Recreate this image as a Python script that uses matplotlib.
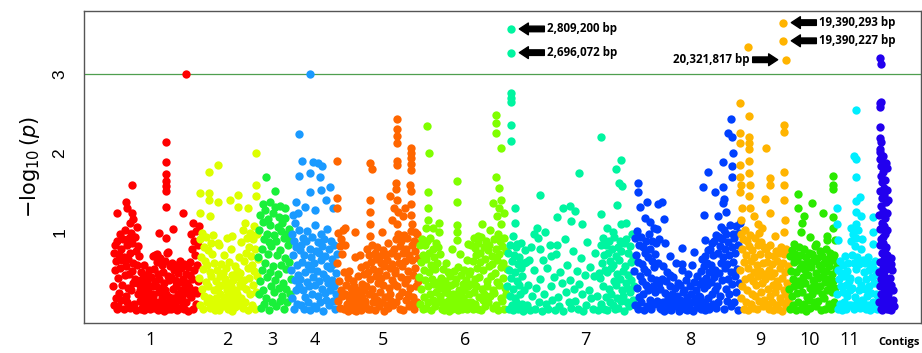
import numpy as np
import matplotlib.pyplot as plt

# contig sizes (plot units) and colours
contig_len = [86, 59, 33, 46, 82, 88, 127, 106, 49, 48, 42, 15]
contig_colors = ['#FF0000', '#DDFF00', '#19F03A', '#1A9AFF', '#FF6600', '#80FF00',
                 '#00F5A0', '#0040FF', '#FFB400', '#2BEA00', '#00EEFF', '#2200EE']
contig_labels = ['1', '2', '3', '4', '5', '6', '7', '8', '9', '10', '11']
label_pos = [38, 114, 159, 202, 270, 352, 472, 577, 647, 697, 737]
threshold = 3.0

# bulk of SNPs per contig: (stretch length, -log10 p x100 along that stretch)
bulk_1 = [(4, [31, 74, 8, 52, 83, 17, 63, 3]),
          (23, [88, 42, 6, 71, 23, 97, 55, 79, 14, 64, 33, 91, 2, 68, 45, 102, 19, 57, 84, 11,
                66, 29, 93, 47, 4, 73, 99, 26, 51, 86, 36, 61, 9, 94, 40, 76, 1, 106, 58, 21,
                82, 34, 69, 13]),
          (13, [27, 3, 49, 18, 41, 7, 58, 1, 33, 46, 12, 24, 38, 5, 29, 14, 52, 21, 2, 43, 10,
                31, 6, 22]),
          (17, [19, 53, 4, 38, 71, 11, 32, 62, 1, 47, 24, 41, 8, 67, 29, 3, 58, 16, 49, 12, 36,
                0, 27, 63, 21, 74, 9, 44, 2, 39, 18, 57]),
          (20, [12, 43, 2, 61, 28, 17, 52, 5, 39, 9, 58, 31, 1, 48, 22, 37, 14, 63, 4, 27, 54,
                19, 8, 41, 59, 3, 33, 24, 47, 11, 36, 0, 56, 21, 30, 45]),
          (9, [62, 18, 97, 41, 79, 3, 112, 52, 88, 27, 71, 9, 101, 58, 23, 83, 38, 108])]
bulk_2 = [(16, [42, 91, 7, 68, 28, 99, 53, 2, 81, 19, 63, 37, 94, 11, 58, 32, 77, 16, 49, 4,
                86, 44, 72, 9, 96, 26, 61, 1]),
          (25, [3, 38, 17, 52, 8, 29, 84, 1, 44, 21, 59, 12, 33, 48, 6, 71, 18, 41, 10, 55, 27,
                92, 2, 36, 14, 62, 23, 31, 79, 0, 46, 9, 39, 19, 57, 5, 26, 13, 51, 22, 43, 7,
                68, 34]),
          (18, [48, 17, 87, 31, 102, 4, 63, 39, 111, 12, 74, 28, 93, 54, 1, 81, 42, 99, 21, 69,
                58, 8, 91, 33, 107, 51, 2, 78, 24, 97, 44, 66])]
bulk_3 = [(33, [68, 21, 102, 38, 121, 4, 79, 52, 113, 27, 91, 9, 128, 61, 16, 98, 43, 117, 72,
                1, 87, 49, 109, 31, 82, 12, 124, 57, 96, 24, 131, 39, 88, 6, 71, 106, 47, 29,
                119, 77, 13, 101, 58, 19, 111, 36, 92, 3, 67, 118, 28, 53, 97, 11, 83, 62, 104,
                22, 89, 41])]
bulk_4 = [(9, [52, 98, 17, 121, 71, 3, 88, 39, 112, 26, 81, 58, 9, 124, 46, 103, 31, 77]),
          (37, [41, 83, 8, 62, 92, 27, 2, 71, 49, 18, 88, 37, 101, 12, 58, 31, 79, 1, 53, 68,
                22, 94, 43, 6, 61, 109, 33, 76, 4, 51, 87, 19, 73, 38, 11, 97, 64, 28, 82, 0,
                47, 91, 23, 69, 42, 14, 57, 104, 35, 78, 7, 55, 26, 89, 66, 39, 13, 59, 32, 84,
                3, 48, 21, 72])]
bulk_5 = [(8, [61, 13, 99, 38, 82, 4, 91, 27, 72, 19, 102, 49, 2, 84]),
          (20, [21, 2, 33, 9, 42, 0, 17, 51, 8, 29, 3, 24, 12, 38, 1, 31, 68, 7, 19, 0, 27, 11,
                44, 3, 22, 14, 56, 1, 34, 18, 6, 26, 47, 13]),
          (30, [9, 58, 31, 79, 2, 49, 22, 71, 41, 3, 62, 28, 83, 12, 53, 19, 74, 1, 44, 66, 14,
                81, 36, 51, 6, 69, 24, 42, 61, 11, 77, 33, 0, 57, 72, 18, 46, 8, 64, 86, 4, 29,
                54, 21, 73, 13, 39, 59, 7, 78, 34, 48]),
          (24, [52, 91, 11, 69, 32, 98, 19, 61, 3, 82, 43, 88, 24, 57, 74, 1, 96, 36, 63, 14,
                79, 41, 93, 22, 51, 6, 71, 29, 101, 9, 64, 84, 18, 46, 89, 2, 54, 76, 31, 97,
                12, 67, 38, 86])]
bulk_6 = [(21, [43, 84, 9, 62, 28, 91, 2, 71, 52, 18, 83, 39, 4, 66, 88, 31, 12, 74, 49, 22,
                93, 1, 58, 41, 79, 14, 34, 68, 6, 53, 86, 24, 61, 37, 81, 11, 29, 72]),
          (30, [19, 42, 3, 31, 53, 11, 1, 38, 24, 61, 4, 29, 13, 49, 21, 0, 44, 9, 33, 79, 2,
                22, 51, 14, 36, 5, 41, 18, 8, 56, 1, 27, 72, 12, 23, 46, 3, 34, 16, 52, 26, 6,
                39, 11, 64, 2, 31, 21, 47, 9]),
          (37, [51, 12, 83, 34, 2, 63, 24, 92, 41, 9, 71, 32, 54, 3, 86, 43, 18, 74, 62, 1, 94,
                28, 52, 14, 81, 22, 66, 6, 89, 38, 31, 77, 11, 84, 57, 19, 102, 44, 69, 59, 27,
                4, 91, 23, 48, 79, 8, 64, 37, 97, 1, 72, 33, 88, 17, 56, 82, 13, 61, 42, 3, 93,
                29, 76, 21, 53])]
bulk_7 = [(18, [31, 74, 2, 52, 19, 83, 42, 8, 63, 28, 1, 71, 49, 16, 81, 11, 38, 59, 3, 33,
                68, 22, 54, 86, 9, 44, 0, 61, 26, 77]),
          (75, [62, 8, 33, 1, 81, 19, 52, 3, 29, 93, 12, 41, 0, 64, 22, 9, 54, 2, 84, 31, 14,
                43, 1, 72, 18, 6, 49, 36, 0, 91, 24, 58, 11, 39, 4, 76, 28, 13, 51, 2, 34, 67,
                21, 0, 46, 7, 87, 27, 56, 16, 3, 44, 73, 19, 1, 48]),
          (34, [42, 83, 9, 61, 31, 92, 3, 71, 52, 18, 84, 49, 1, 73, 28, 89, 12, 63, 22, 54, 79,
                8, 58, 38, 94, 2, 69, 33, 47, 16, 81, 4, 64, 41, 88, 13, 76, 27, 51, 19, 0, 86,
                57, 36, 91, 11, 29, 74, 45, 6, 82, 24, 62, 39, 97, 14, 68, 32])]
bulk_8 = [(26, [51, 92, 8, 71, 29, 101, 3, 62, 83, 18, 44, 94, 11, 59, 38, 81, 21, 53, 1, 74,
                33, 88, 49, 6, 68, 27, 97, 14, 79, 42, 2, 63, 89, 31, 56, 9, 72, 24, 86, 39,
                104, 13, 61, 36, 91, 4]),
          (40, [28, 2, 41, 12, 57, 0, 23, 38, 9, 49, 17, 3, 32, 46, 1, 21, 13, 43, 6, 29, 61, 8,
                19, 36, 0, 14, 33, 4, 52, 24, 11, 27, 2, 39, 18, 1, 47, 9, 31, 3, 22, 58, 12, 0,
                37, 16, 26, 5, 44, 11, 19, 34]),
          (40, [18, 51, 3, 38, 66, 11, 57, 29, 1, 69, 42, 8, 61, 33, 77, 16, 49, 2, 79, 37, 58,
                21, 86, 9, 71, 43, 88, 27, 52, 4, 96, 31, 73, 12, 94, 48, 82, 19, 106, 61, 39,
                91, 68, 103, 2, 54, 79, 28, 98, 59, 13, 87, 41, 71, 22, 109, 49, 6, 81, 34, 97,
                62, 11, 92, 44, 74, 24, 107, 53, 84, 1, 99, 36, 111])]
bulk_9 = [(25, [52, 98, 17, 79, 31, 91, 3, 62, 41, 102, 12, 71, 27, 88, 54, 1, 82, 43, 96, 9,
                63, 22, 77, 38, 4, 68, 49, 19, 93, 33, 58, 2, 84, 44, 13, 99, 51, 72, 24, 87,
                36, 6, 61, 81, 14, 47]),
          (24, [41, 78, 9, 62, 28, 71, 2, 52, 19, 83, 44, 11, 59, 33, 1, 69, 48, 24, 76, 8, 38,
                63, 3, 31, 74, 17, 54, 81, 12, 42, 0, 61, 27, 72, 21, 49, 6, 79, 36, 14, 57, 29])]
bulk_10 = [(48, [28, 69, 3, 51, 19, 77, 41, 8, 62, 31, 72, 1, 49, 23, 64, 38, 12, 81, 33, 54,
                 2, 71, 24, 59, 43, 9, 79, 36, 52, 0, 68, 18, 46, 61, 14, 74, 29, 4, 56, 72, 21,
                 39, 63, 11, 34, 82, 6, 48, 26, 67, 42, 13, 58, 31, 76, 1, 53, 22, 69, 44, 16,
                 61, 37, 3, 79, 51, 27, 66, 41, 9, 57, 33, 73, 2, 47, 24, 64, 38, 11, 71, 29,
                 54, 7, 62])]
bulk_11 = [(13, [21, 52, 3, 41, 63, 9, 31, 48, 1, 58, 24, 44, 12, 69, 33, 2, 51, 19, 61, 8, 38,
                 27]),
           (13, [42, 88, 7, 71, 29, 98, 2, 61, 82, 18, 53, 93, 11, 68, 39, 102, 26, 59, 4, 79,
                 33, 91, 14, 64]),
           (16, [11, 49, 28, 61, 3, 41, 19, 68, 8, 52, 31, 1, 59, 23, 43, 12, 54, 4, 36, 63, 21,
                 46, 2, 51, 14, 33])]
bulk_12 = [(9, [12, 121, 49, 192, 83, 31, 152, 201, 62, 104, 3, 171, 41, 133, 91, 184, 22, 112,
                73, 163, 34, 143, 1, 94, 176, 54, 127, 14, 196, 86, 44, 156, 24, 108, 66, 147,
                6, 78, 118, 33, 166, 52, 98, 9, 138, 61, 19, 81, 187, 42, 124, 2, 153, 71, 102,
                29, 181, 58, 141, 16]),
           (6, [21, 3, 42, 11, 33, 1, 52, 14, 26, 6])]

# stand-out SNPs: (position within contig, -log10 p)
peaks_1 = [(3.5, 1.24), (13, 1.38), (14, 1.3), (19, 1.6), (19, 1.24), (20, 1.17), (17, 1.12),
           (40, 0.69), (46, 0.99), (53, 2.14), (53, 1.88), (53, 1.73), (53, 1.65), (53, 1.58),
           (53, 1.52), (53, 1.31), (53, 0.92), (60, 1.04), (70, 1.24), (73, 3.0), (55, 0.75),
           (44, 0.72)]
peaks_2 = [(1, 1.49), (1, 1.24), (10, 1.76), (10, 1.49), (10, 1.4), (11, 1.2), (19, 1.85),
           (19, 1.38), (31, 1.4), (39, 1.47), (39, 1.32), (49, 1.3), (57, 2.0), (57, 1.6),
           (57, 1.45), (19, 0.86), (33, 0.95)]
peaks_3 = [(8, 1.7), (17, 1.52), (5, 1.35), (12, 1.38), (22, 1.33), (27, 1.3)]
peaks_4 = [(8, 2.24), (11, 1.9), (22, 1.89), (27, 1.87), (31, 1.83), (8, 1.71), (19, 1.75),
           (29, 1.7), (39, 1.57), (19, 1.51), (30, 1.53), (19, 3.0), (5, 1.38), (14, 1.32),
           (24, 1.28), (35, 1.4), (42, 1.3)]
peaks_5 = [(0, 1.9), (0, 1.43), (0, 1.3), (8, 1.05), (18, 1.0), (23, 0.71), (33, 1.87),
           (35, 1.8), (33, 1.4), (33, 1.25), (33, 1.1), (33, 0.95), (53, 1.46), (60, 2.43),
           (60, 2.3), (60, 2.22), (60, 2.12), (60, 1.9), (60, 1.85), (59, 1.62), (59, 1.55),
           (60, 1.4), (61, 1.25), (60, 1.1), (74, 2.06), (74, 2.0), (74, 1.94), (74, 1.86),
           (74, 1.78), (73, 1.6), (74, 1.52), (74, 1.35), (74, 1.22), (75, 1.1), (66, 1.2),
           (68, 1.3), (45, 1.0), (78, 1.0), (55, 1.15), (57, 1.3), (64, 0.95)]
peaks_6 = [(8, 2.34), (10, 2.0), (9, 1.5), (9, 1.3), (9, 1.15), (7, 1.05), (20, 1.11),
           (20, 1.0), (38, 1.65), (38, 1.38), (38, 1.09), (38, 1.0), (38, 0.9), (63, 1.1),
           (56, 0.8), (59, 0.95), (77, 2.48), (77, 2.38), (77, 2.25), (82, 2.06), (77, 1.7),
           (80, 1.56), (74, 1.37), (82, 1.4), (85, 1.24), (80, 1.3), (78, 1.2), (82, 1.1),
           (14, 1.05), (49, 0.85)]
peaks_7 = [(4, 2.76), (4, 2.7), (4, 2.65), (4, 2.35), (4, 2.15), (8, 1.3), (8, 1.11),
           (6, 0.95), (10, 0.85), (33, 1.47), (72, 1.75), (94, 2.2), (56, 1.3), (63, 1.33),
           (68, 1.27), (50, 1.19), (64, 1.14), (75, 1.1), (30, 1.05), (27, 0.97), (38, 1.0),
           (50, 0.84), (33, 0.78), (109, 1.8), (114, 1.91), (112, 1.62), (115, 1.58),
           (110, 1.34), (94, 1.23), (114, 1.1), (119, 1.12), (106, 1.0), (100, 1.05),
           (44, 0.7), (22, 0.65)]
peaks_8 = [(4, 1.62), (4, 1.51), (6, 1.32), (13, 1.38), (28, 1.38), (24, 1.35), (11, 1.18),
           (16, 1.13), (30, 1.16), (31, 0.86), (48, 0.8), (48, 0.6), (71, 0.9), (70, 1.22),
           (74, 1.76), (69, 1.57), (81, 1.51), (89, 1.57), (89, 1.37), (97, 2.43), (94, 2.25),
           (98, 2.2), (99, 2.0), (89, 1.89), (98, 1.83), (98, 1.7), (90, 1.42), (20, 1.05),
           (36, 0.7), (60, 0.75), (84, 1.2), (92, 1.25)]
peaks_9 = [(0, 2.63), (9, 2.47), (0, 2.25), (9, 2.2), (0, 2.13), (9, 2.13), (9, 2.05),
           (0, 1.85), (0, 1.7), (1, 1.6), (0, 1.5), (9, 1.9), (9, 1.75), (10, 1.6), (9, 1.45),
           (10, 1.3), (2, 1.3), (1, 1.15), (26, 2.06), (30, 1.68), (30, 1.6), (25, 1.42),
           (30, 1.24), (44, 2.35), (44, 2.27), (44, 1.76), (44, 1.6), (44, 1.4), (45, 1.15),
           (44, 1.0), (8, 3.34), (18, 1.1), (22, 1.05), (35, 0.95), (14, 1.2)]
peaks_10 = [(9, 1.48), (23, 1.37), (34, 1.24), (44, 1.71), (44, 1.59), (44, 1.54), (44, 1.19),
            (15, 1.2), (9, 1.3), (13, 1.11), (21, 0.94), (38, 0.95), (38, 0.9), (12, 1.0),
            (27, 0.85), (44, 1.05), (46, 0.9), (5, 0.85)]
peaks_11 = [(19, 2.54), (17, 1.96), (19, 1.92), (19, 1.7), (23, 1.44), (19, 1.39), (36, 1.19),
            (0, 1.3), (0, 1.1), (19, 1.25), (19, 1.1), (36, 1.0), (36, 0.85), (1, 0.9),
            (14, 1.05), (24, 1.2)]
peaks_12 = [(1, 3.2), (2, 3.13), (1, 2.63), (2, 2.65), (0.5, 2.58), (1, 2.33), (1, 2.19),
            (2, 2.14), (1, 2.05), (12, 0.67), (12, 0.6), (8, 0.4)]

# labelled hits: (contig index, position in contig, -log10 p, label, text side)
hits = [(6, 4, 3.57, '2,809,200 bp', 'right'),
        (6, 4, 3.27, '2,696,072 bp', 'right'),
        (8, 43, 3.65, '19,390,293 bp', 'right'),
        (8, 43, 3.42, '19,390,227 bp', 'right'),
        (8, 46, 3.18, '20,321,817 bp', 'left')]

bulks = [bulk_1, bulk_2, bulk_3, bulk_4, bulk_5, bulk_6, bulk_7, bulk_8, bulk_9, bulk_10,
         bulk_11, bulk_12]
peaks = [peaks_1, peaks_2, peaks_3, peaks_4, peaks_5, peaks_6, peaks_7, peaks_8, peaks_9,
         peaks_10, peaks_11, peaks_12]

starts = np.concatenate([[0], np.cumsum(contig_len)[:-1]])

fig = plt.figure(figsize=(9.22, 3.53), dpi=100)
ax = fig.add_axes([84 / 922, 30 / 353, 837 / 922, 312 / 353])

dot = 36
for i in range(len(contig_len)):
    xs, ys = [], []
    pos = starts[i]
    for span, vals in bulks[i]:
        n = len(vals)
        xs.extend(pos + (np.arange(n) + 0.5) * span / n)
        ys.extend(np.array(vals) / 100)
        pos += span
    for p, v in peaks[i]:
        xs.append(starts[i] + p)
        ys.append(v)
    ax.scatter(xs, ys, s=dot, color=contig_colors[i], linewidths=0, zorder=2)

ax.axhline(threshold, color='#4f9f4f', lw=0.9, zorder=1)

for ci, pos, val, text, side in hits:
    x = starts[ci] + pos
    ax.scatter([x], [val], s=dot, color=contig_colors[ci], linewidths=0, zorder=3)
    sgn = 1 if side == 'right' else -1
    ax.annotate('', xy=(x, val), xytext=(sgn * 24, 0), textcoords='offset points',
                arrowprops=dict(arrowstyle='simple,head_length=0.65,head_width=0.85,tail_width=0.4',
                                color='black', shrinkA=0, shrinkB=6))
    ax.annotate(text, xy=(x, val), xytext=(sgn * 26, 0), textcoords='offset points',
                ha='left' if sgn > 0 else 'right', va='center', fontsize=8.3,
                fontweight='bold', family='Open Sans')

ax.set_xlim(-29, 808)
ax.set_ylim(-0.152, 3.797)

ax.set_yticks([1, 2, 3])
ax.set_yticklabels(['1', '2', '3'], rotation=90, va='center', fontsize=12.5,
                   family='Liberation Sans')
ax.tick_params(axis='y', length=0, pad=12)
ax.set_ylabel(r'$-\log_{10}(p)$', fontsize=15)
ax.yaxis.set_label_coords(-0.05, 0.5)

ax.set_xticks(label_pos)
ax.set_xticklabels(contig_labels, fontsize=13, family='Open Sans')
ax.tick_params(axis='x', length=0, pad=6)
ax.text(0.974, -0.064, 'Contigs', transform=ax.transAxes, ha='center', va='center',
        fontsize=8, fontweight='bold', family='Open Sans')

for s in ax.spines.values():
    s.set_color('#555555')
    s.set_linewidth(1.0)

fig.savefig('out.png', dpi=100)
